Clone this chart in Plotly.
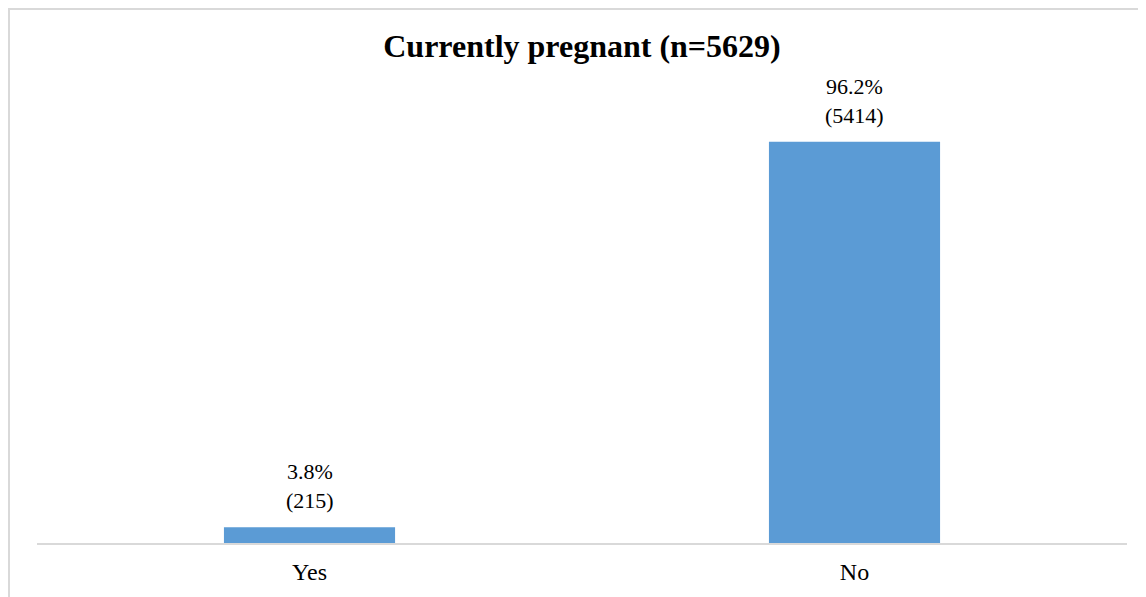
import plotly.graph_objects as go

categories = ["Yes", "No"]
percentages = [3.8, 96.2]
counts = [215, 5414]
title_text = "Currently pregnant (n=5629)"

W, H = 1146, 597
ml, mr, mt, mb = 29, 27, 118, 62
pw = W - ml - mr
ph = H - mt - mb

labels = [f"{p}%<br>({c})" for p, c in zip(percentages, counts)]

fig = go.Figure(go.Bar(
    x=categories, y=percentages,
    marker=dict(color="#5B9BD5", line=dict(width=0)),
    width=0.314,
    hoverinfo="skip",
))

annotations = [
    dict(x=c, y=p, xref="x", yref="y", text=t, showarrow=False,
         yanchor="bottom", xanchor="center", yshift=12,
         font=dict(family="Liberation Serif", size=22, color="#000000"))
    for c, p, t in zip(categories, percentages, labels)
]

fig.update_layout(
    width=W, height=H,
    margin=dict(l=ml, r=mr, t=mt, b=mb),
    paper_bgcolor="white", plot_bgcolor="white",
    showlegend=False,
    title=dict(text=f"<b>{title_text}</b>", x=0.5, xref="paper", xanchor="center",
               y=1 - 38 / H, yanchor="middle",
               font=dict(family="Liberation Serif", size=32, color="#000000")),
    xaxis=dict(showline=True, linecolor="#D9D9D9", linewidth=2, ticks="",
               tickfont=dict(family="Liberation Serif", size=24, color="#000000"),
               ticklabelstandoff=6,
               showgrid=False, zeroline=False),
    yaxis=dict(range=[0, 100], visible=False, showgrid=False, zeroline=False),
    annotations=annotations,
    shapes=[dict(type="line", xref="paper", yref="paper",
                 x0=(0 - ml) / pw, x1=(W + 5 - ml) / pw,
                 y0=(H - 1 - mb) / ph, y1=(H - 1 - mb) / ph,
                 line=dict(color="#D9D9D9", width=2)),
            dict(type="line", xref="paper", yref="paper",
                 x0=(1 - ml) / pw, x1=(1 - ml) / pw,
                 y0=(H + 5 - mb) / ph, y1=-(mb + 5) / ph,
                 line=dict(color="#D9D9D9", width=2))],
)

fig.write_html("out.html")
